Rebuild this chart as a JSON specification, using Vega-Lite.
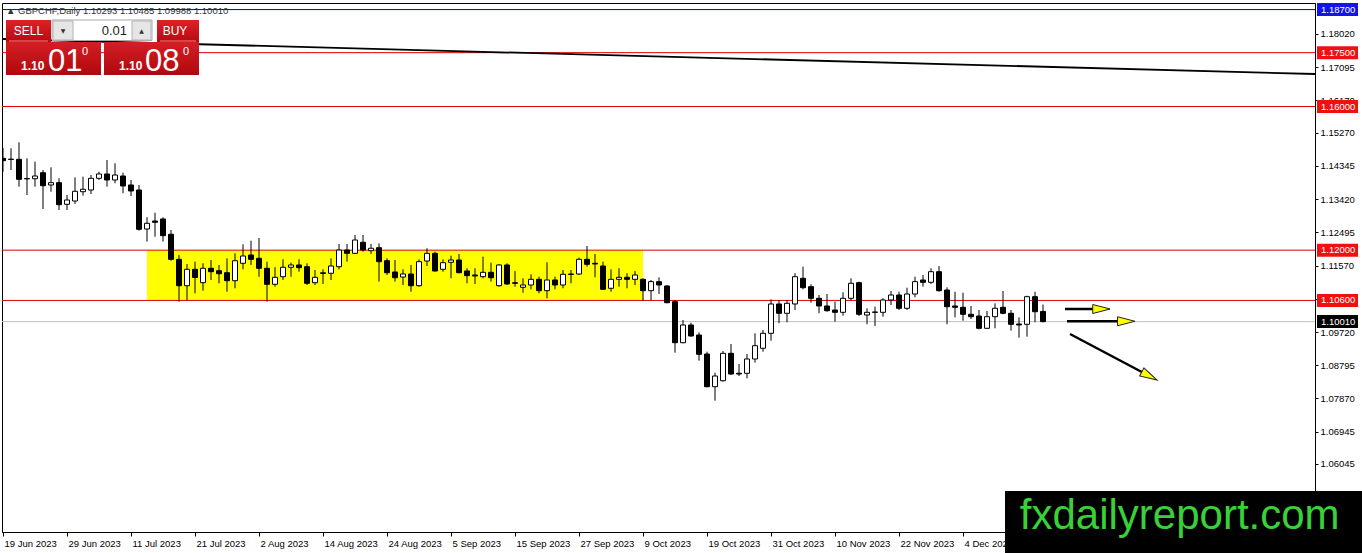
{
  "$schema": "https://vega.github.io/schema/vega-lite/v6.json",
  "width": 1313,
  "height": 529,
  "padding": {"left": 2, "top": 3, "right": 47, "bottom": 21},
  "autosize": {"type": "none"},
  "background": "white",
  "config": {
    "view": {"stroke": "#000000", "strokeWidth": 1},
    "scale": {"continuousPadding": 0},
    "axis": {"labelFont": "Liberation Sans", "labelFontSize": 9.5, "labelColor": "#000000", "domainColor": "#000000", "tickColor": "#000000", "grid": false}
  },
  "data": {"values": [{}]},
  "datasets": {
    "candles": [
      {"i":0,"d":"2023-06-19","o":1.14558,"h":1.14845,"l":1.14185,"c":1.14491},
      {"i":1,"d":"2023-06-20","o":1.14535,"h":1.14837,"l":1.14232,"c":1.14525},
      {"i":2,"d":"2023-06-21","o":1.14530,"h":1.15004,"l":1.13767,"c":1.13973},
      {"i":3,"d":"2023-06-22","o":1.13995,"h":1.14558,"l":1.13536,"c":1.13985},
      {"i":4,"d":"2023-06-23","o":1.13990,"h":1.14464,"l":1.13767,"c":1.14065},
      {"i":5,"d":"2023-06-26","o":1.14157,"h":1.14232,"l":1.13146,"c":1.13795},
      {"i":6,"d":"2023-06-27","o":1.13815,"h":1.14308,"l":1.13628,"c":1.13879},
      {"i":7,"d":"2023-06-28","o":1.13879,"h":1.14001,"l":1.13118,"c":1.13266},
      {"i":8,"d":"2023-06-29","o":1.13277,"h":1.13536,"l":1.13118,"c":1.13397},
      {"i":9,"d":"2023-06-30","o":1.13369,"h":1.14029,"l":1.13286,"c":1.13639},
      {"i":10,"d":"2023-07-03","o":1.13628,"h":1.14046,"l":1.13517,"c":1.13695},
      {"i":11,"d":"2023-07-04","o":1.13675,"h":1.14093,"l":1.13564,"c":1.14001},
      {"i":12,"d":"2023-07-05","o":1.14001,"h":1.14185,"l":1.13954,"c":1.14121},
      {"i":13,"d":"2023-07-06","o":1.14121,"h":1.14511,"l":1.13767,"c":1.13954},
      {"i":14,"d":"2023-07-07","o":1.13954,"h":1.14419,"l":1.13862,"c":1.14093},
      {"i":15,"d":"2023-07-10","o":1.14065,"h":1.14157,"l":1.13584,"c":1.13787},
      {"i":16,"d":"2023-07-11","o":1.13815,"h":1.13954,"l":1.13508,"c":1.13648},
      {"i":17,"d":"2023-07-12","o":1.13675,"h":1.13815,"l":1.12542,"c":1.12581},
      {"i":18,"d":"2023-07-13","o":1.12589,"h":1.12915,"l":1.12236,"c":1.12748},
      {"i":19,"d":"2023-07-14","o":1.12812,"h":1.13043,"l":1.12375,"c":1.12776},
      {"i":20,"d":"2023-07-17","o":1.12868,"h":1.12915,"l":1.12236,"c":1.12403},
      {"i":21,"d":"2023-07-18","o":1.12442,"h":1.12561,"l":1.11706,"c":1.11745},
      {"i":22,"d":"2023-07-19","o":1.11745,"h":1.11865,"l":1.10565,"c":1.11010},
      {"i":23,"d":"2023-07-20","o":1.11010,"h":1.11615,"l":1.10612,"c":1.11467},
      {"i":24,"d":"2023-07-21","o":1.11467,"h":1.11679,"l":1.10799,"c":1.11239},
      {"i":25,"d":"2023-07-24","o":1.11094,"h":1.11634,"l":1.10871,"c":1.11495},
      {"i":26,"d":"2023-07-25","o":1.11495,"h":1.11726,"l":1.11169,"c":1.11400},
      {"i":27,"d":"2023-07-26","o":1.11428,"h":1.11587,"l":1.11077,"c":1.11344},
      {"i":28,"d":"2023-07-27","o":1.11372,"h":1.11773,"l":1.10843,"c":1.11149},
      {"i":29,"d":"2023-07-28","o":1.11149,"h":1.11912,"l":1.10938,"c":1.11706},
      {"i":30,"d":"2023-07-31","o":1.11634,"h":1.12163,"l":1.11467,"c":1.11837},
      {"i":31,"d":"2023-08-01","o":1.11865,"h":1.12263,"l":1.11587,"c":1.11745},
      {"i":32,"d":"2023-08-02","o":1.11773,"h":1.12339,"l":1.11261,"c":1.11495},
      {"i":33,"d":"2023-08-03","o":1.11495,"h":1.11679,"l":1.10565,"c":1.11049},
      {"i":34,"d":"2023-08-04","o":1.11049,"h":1.11523,"l":1.10982,"c":1.11244},
      {"i":35,"d":"2023-08-07","o":1.11261,"h":1.11745,"l":1.11169,"c":1.11523},
      {"i":36,"d":"2023-08-08","o":1.11523,"h":1.11651,"l":1.11261,"c":1.11587},
      {"i":37,"d":"2023-08-09","o":1.11587,"h":1.11745,"l":1.11400,"c":1.11512},
      {"i":38,"d":"2023-08-10","o":1.11539,"h":1.11634,"l":1.11030,"c":1.11077},
      {"i":39,"d":"2023-08-11","o":1.11094,"h":1.11447,"l":1.11030,"c":1.11244},
      {"i":40,"d":"2023-08-14","o":1.11350,"h":1.11467,"l":1.11058,"c":1.11372},
      {"i":41,"d":"2023-08-15","o":1.11356,"h":1.11773,"l":1.11169,"c":1.11559},
      {"i":42,"d":"2023-08-16","o":1.11539,"h":1.12172,"l":1.11467,"c":1.12004},
      {"i":43,"d":"2023-08-17","o":1.12004,"h":1.12172,"l":1.11679,"c":1.11912},
      {"i":44,"d":"2023-08-18","o":1.11912,"h":1.12422,"l":1.11893,"c":1.12283},
      {"i":45,"d":"2023-08-21","o":1.12219,"h":1.12422,"l":1.11957,"c":1.12004},
      {"i":46,"d":"2023-08-22","o":1.11985,"h":1.12172,"l":1.11893,"c":1.12052},
      {"i":47,"d":"2023-08-23","o":1.12068,"h":1.12191,"l":1.11122,"c":1.11679},
      {"i":48,"d":"2023-08-24","o":1.11706,"h":1.11773,"l":1.11308,"c":1.11372},
      {"i":49,"d":"2023-08-25","o":1.11392,"h":1.11726,"l":1.11122,"c":1.11233},
      {"i":50,"d":"2023-08-28","o":1.11252,"h":1.11467,"l":1.11030,"c":1.11336},
      {"i":51,"d":"2023-08-29","o":1.11336,"h":1.11587,"l":1.10843,"c":1.11010},
      {"i":52,"d":"2023-08-30","o":1.11010,"h":1.11745,"l":1.10982,"c":1.11679},
      {"i":53,"d":"2023-08-31","o":1.11698,"h":1.12052,"l":1.11559,"c":1.11912},
      {"i":54,"d":"2023-09-01","o":1.11912,"h":1.11957,"l":1.11400,"c":1.11420},
      {"i":55,"d":"2023-09-04","o":1.11467,"h":1.11745,"l":1.11400,"c":1.11651},
      {"i":56,"d":"2023-09-05","o":1.11662,"h":1.11846,"l":1.11216,"c":1.11726},
      {"i":57,"d":"2023-09-06","o":1.11726,"h":1.11893,"l":1.11356,"c":1.11372},
      {"i":58,"d":"2023-09-07","o":1.11420,"h":1.11495,"l":1.11077,"c":1.11289},
      {"i":59,"d":"2023-09-08","o":1.11308,"h":1.11495,"l":1.11058,"c":1.11280},
      {"i":60,"d":"2023-09-11","o":1.11261,"h":1.11818,"l":1.11216,"c":1.11383},
      {"i":61,"d":"2023-09-12","o":1.11383,"h":1.11651,"l":1.11122,"c":1.11233},
      {"i":62,"d":"2023-09-13","o":1.11010,"h":1.11615,"l":1.10982,"c":1.11587},
      {"i":63,"d":"2023-09-14","o":1.11587,"h":1.11634,"l":1.11030,"c":1.11058},
      {"i":64,"d":"2023-09-15","o":1.11094,"h":1.11420,"l":1.10982,"c":1.11077},
      {"i":65,"d":"2023-09-18","o":1.10966,"h":1.11216,"l":1.10815,"c":1.11030},
      {"i":66,"d":"2023-09-19","o":1.11030,"h":1.11328,"l":1.10910,"c":1.11188},
      {"i":67,"d":"2023-09-20","o":1.11188,"h":1.11261,"l":1.10799,"c":1.10871},
      {"i":68,"d":"2023-09-21","o":1.10871,"h":1.11662,"l":1.10659,"c":1.11169},
      {"i":69,"d":"2023-09-22","o":1.11169,"h":1.11261,"l":1.10910,"c":1.11030},
      {"i":70,"d":"2023-09-25","o":1.11030,"h":1.11447,"l":1.10938,"c":1.11328},
      {"i":71,"d":"2023-09-26","o":1.11322,"h":1.11447,"l":1.11077,"c":1.11336},
      {"i":72,"d":"2023-09-27","o":1.11336,"h":1.11790,"l":1.11308,"c":1.11745},
      {"i":73,"d":"2023-09-28","o":1.11745,"h":1.12116,"l":1.11539,"c":1.11606},
      {"i":74,"d":"2023-09-29","o":1.11634,"h":1.11893,"l":1.11244,"c":1.11615},
      {"i":75,"d":"2023-10-02","o":1.11559,"h":1.11679,"l":1.10890,"c":1.10910},
      {"i":76,"d":"2023-10-03","o":1.10938,"h":1.11467,"l":1.10843,"c":1.11188},
      {"i":77,"d":"2023-10-04","o":1.11188,"h":1.11495,"l":1.10982,"c":1.11244},
      {"i":78,"d":"2023-10-05","o":1.11244,"h":1.11356,"l":1.10938,"c":1.11188},
      {"i":79,"d":"2023-10-06","o":1.11188,"h":1.11420,"l":1.11030,"c":1.11308},
      {"i":80,"d":"2023-10-09","o":1.11188,"h":1.11216,"l":1.10592,"c":1.10871},
      {"i":81,"d":"2023-10-10","o":1.10871,"h":1.11169,"l":1.10612,"c":1.11122},
      {"i":82,"d":"2023-10-11","o":1.11122,"h":1.11244,"l":1.10779,"c":1.11030},
      {"i":83,"d":"2023-10-12","o":1.11002,"h":1.11030,"l":1.10520,"c":1.10537},
      {"i":84,"d":"2023-10-13","o":1.10565,"h":1.10612,"l":1.09144,"c":1.09423},
      {"i":85,"d":"2023-10-16","o":1.09423,"h":1.10055,"l":1.09406,"c":1.09916},
      {"i":86,"d":"2023-10-17","o":1.09916,"h":1.09980,"l":1.09590,"c":1.09609},
      {"i":87,"d":"2023-10-18","o":1.09637,"h":1.09712,"l":1.08921,"c":1.09100},
      {"i":88,"d":"2023-10-19","o":1.09108,"h":1.09172,"l":1.08181,"c":1.08197},
      {"i":89,"d":"2023-10-20","o":1.08197,"h":1.08587,"l":1.07807,"c":1.08495},
      {"i":90,"d":"2023-10-23","o":1.08364,"h":1.09192,"l":1.08337,"c":1.09127},
      {"i":91,"d":"2023-10-24","o":1.09127,"h":1.09387,"l":1.08523,"c":1.08551},
      {"i":92,"d":"2023-10-25","o":1.08571,"h":1.08830,"l":1.08495,"c":1.08551},
      {"i":93,"d":"2023-10-26","o":1.08571,"h":1.09108,"l":1.08431,"c":1.08969},
      {"i":94,"d":"2023-10-27","o":1.08969,"h":1.09685,"l":1.08866,"c":1.09339},
      {"i":95,"d":"2023-10-30","o":1.09267,"h":1.09776,"l":1.09172,"c":1.09685},
      {"i":96,"d":"2023-10-31","o":1.09685,"h":1.10631,"l":1.09478,"c":1.10501},
      {"i":97,"d":"2023-11-01","o":1.10501,"h":1.10612,"l":1.09963,"c":1.10242},
      {"i":98,"d":"2023-11-02","o":1.10242,"h":1.10612,"l":1.09991,"c":1.10520},
      {"i":99,"d":"2023-11-03","o":1.10501,"h":1.11356,"l":1.10333,"c":1.11261},
      {"i":100,"d":"2023-11-06","o":1.11216,"h":1.11539,"l":1.10910,"c":1.10955},
      {"i":101,"d":"2023-11-07","o":1.10982,"h":1.11049,"l":1.10537,"c":1.10659},
      {"i":102,"d":"2023-11-08","o":1.10659,"h":1.10751,"l":1.10242,"c":1.10445},
      {"i":103,"d":"2023-11-09","o":1.10445,"h":1.10779,"l":1.10286,"c":1.10314},
      {"i":104,"d":"2023-11-10","o":1.10333,"h":1.10565,"l":1.10008,"c":1.10269},
      {"i":105,"d":"2023-11-13","o":1.10269,"h":1.10826,"l":1.10175,"c":1.10659},
      {"i":106,"d":"2023-11-14","o":1.10659,"h":1.11216,"l":1.10612,"c":1.11077},
      {"i":107,"d":"2023-11-15","o":1.11094,"h":1.11122,"l":1.10166,"c":1.10214},
      {"i":108,"d":"2023-11-16","o":1.10194,"h":1.10381,"l":1.09935,"c":1.10269},
      {"i":109,"d":"2023-11-17","o":1.10278,"h":1.10425,"l":1.09888,"c":1.10269},
      {"i":110,"d":"2023-11-20","o":1.10269,"h":1.10659,"l":1.10147,"c":1.10612},
      {"i":111,"d":"2023-11-21","o":1.10612,"h":1.10863,"l":1.10473,"c":1.10751},
      {"i":112,"d":"2023-11-22","o":1.10751,"h":1.10843,"l":1.10333,"c":1.10381},
      {"i":113,"d":"2023-11-23","o":1.10381,"h":1.10955,"l":1.10333,"c":1.10779},
      {"i":114,"d":"2023-11-24","o":1.10779,"h":1.11261,"l":1.10687,"c":1.11122},
      {"i":115,"d":"2023-11-27","o":1.11169,"h":1.11308,"l":1.10982,"c":1.11105},
      {"i":116,"d":"2023-11-28","o":1.11105,"h":1.11495,"l":1.11058,"c":1.11400},
      {"i":117,"d":"2023-11-29","o":1.11400,"h":1.11559,"l":1.10843,"c":1.10871},
      {"i":118,"d":"2023-11-30","o":1.10890,"h":1.10966,"l":1.09935,"c":1.10425},
      {"i":119,"d":"2023-12-01","o":1.10445,"h":1.10843,"l":1.10130,"c":1.10409},
      {"i":120,"d":"2023-12-04","o":1.10409,"h":1.10815,"l":1.10035,"c":1.10214},
      {"i":121,"d":"2023-12-05","o":1.10214,"h":1.10445,"l":1.10083,"c":1.10147},
      {"i":122,"d":"2023-12-06","o":1.10166,"h":1.10333,"l":1.09796,"c":1.09824},
      {"i":123,"d":"2023-12-07","o":1.09824,"h":1.10306,"l":1.09804,"c":1.10147},
      {"i":124,"d":"2023-12-08","o":1.10147,"h":1.10520,"l":1.09824,"c":1.10381},
      {"i":125,"d":"2023-12-11","o":1.10409,"h":1.10863,"l":1.10214,"c":1.10242},
      {"i":126,"d":"2023-12-12","o":1.10242,"h":1.10333,"l":1.09757,"c":1.09935},
      {"i":127,"d":"2023-12-13","o":1.09944,"h":1.10130,"l":1.09562,"c":1.09916},
      {"i":128,"d":"2023-12-14","o":1.09935,"h":1.10732,"l":1.09590,"c":1.10704},
      {"i":129,"d":"2023-12-15","o":1.10704,"h":1.10843,"l":1.09991,"c":1.10286},
      {"i":130,"d":"2023-12-18","o":1.10293,"h":1.10485,"l":1.09988,"c":1.10010}
    ],
    "levels": [
      {"p": 1.187, "kind": "high"},
      {"p": 1.175, "kind": "level"},
      {"p": 1.16, "kind": "level"},
      {"p": 1.12, "kind": "major"},
      {"p": 1.106, "kind": "level"},
      {"p": 1.1001, "kind": "bid"}
    ],
    "zones": [{"from": 18, "to": 80, "top": 1.12, "bottom": 1.106}],
    "trend": [{"i": -0.125, "p": 1.17881}, {"i": 164, "p": 1.16906}],
    "arrows": [
      {"id": "a", "i": 132.75, "p": 1.10361}, {"id": "a", "i": 137.3, "p": 1.10361},
      {"id": "b", "i": 133, "p": 1.1002}, {"id": "b", "i": 140.4, "p": 1.1002},
      {"id": "c", "i": 133.375, "p": 1.09665}, {"id": "c", "i": 143.3, "p": 1.08495}
    ],
    "heads": [
      {"id": "a", "i": 137.3, "p": 1.10361, "a": 0},
      {"id": "b", "i": 140.4, "p": 1.1002, "a": 0},
      {"id": "c", "i": 143.3, "p": 1.08495, "a": 28}
    ]
  },
  "layer": [
    {
      "data": {"name": "zones"},
      "mark": {"type": "rect", "fill": "#FFFF00"},
      "encoding": {
        "x": {"field": "from", "type": "quantitative", "title": null},
        "x2": {"field": "to"},
        "y": {"field": "top", "type": "quantitative", "title": null},
        "y2": {"field": "bottom"}
      }
    },
    {
      "data": {"name": "levels"},
      "mark": {"type": "rule"},
      "encoding": {
        "y": {"field": "p", "type": "quantitative", "title": null},
        "stroke": {"field": "kind", "type": "nominal", "legend": null,
          "scale": {"domain": ["high", "level", "major", "bid"], "range": ["#0000C8", "#D80000", "#D80000", "#C0C0C0"]}},
        "strokeWidth": {"field": "kind", "type": "nominal", "legend": null,
          "scale": {"domain": ["high", "level", "major", "bid"], "range": [1, 1, 2, 1]}}
      }
    },
    {
      "data": {"name": "trend"},
      "mark": {"type": "line", "color": "#000000", "strokeWidth": 1.8},
      "encoding": {
        "x": {"field": "i", "type": "quantitative", "title": null},
        "y": {"field": "p", "type": "quantitative", "title": null}
      }
    },
    {
      "data": {"name": "candles"},
      "mark": {"type": "rule", "color": "#000000", "strokeWidth": 1, "clip": true},
      "encoding": {
        "x": {
          "field": "i", "type": "quantitative", "title": null,
          "scale": {"domain": [-0.125, 164], "nice": false, "zero": false, "padding": 0},
          "axis": {
            "orient": "bottom", "title": null,
            "values": [0, 8, 16, 24, 32, 40, 48, 56, 64, 72, 80, 88, 96, 104, 112, 120],
            "labelExpr": "['19 Jun 2023','29 Jun 2023','11 Jul 2023','21 Jul 2023','2 Aug 2023','14 Aug 2023','24 Aug 2023','5 Sep 2023','15 Sep 2023','27 Sep 2023','9 Oct 2023','19 Oct 2023','31 Oct 2023','10 Nov 2023','22 Nov 2023','4 Dec 2023'][datum.value / 8]",
            "labelAlign": "left", "labelOffset": 1, "labelPadding": 2, "tickSize": 4,
            "labelOverlap": false, "labelFlush": false, "labelBound": false
          }
        },
        "y": {
          "field": "l", "type": "quantitative", "title": null,
          "scale": {"domain": [1.04151, 1.18883], "nice": false, "zero": false, "padding": 0},
          "axis": {
            "orient": "right", "title": null,
            "values": [1.1802, 1.17095, 1.1617, 1.1527, 1.14345, 1.1342, 1.12495, 1.1157, 1.10645, 1.0972, 1.08795, 1.0787, 1.06945, 1.06045],
            "format": ".5f", "tickSize": 3, "labelPadding": 2,
            "labelOverlap": false, "labelFlush": false
          }
        },
        "y2": {"field": "h"}
      }
    },
    {
      "data": {"name": "candles"},
      "mark": {"type": "bar", "orient": "vertical", "size": 5, "stroke": "#000000", "strokeWidth": 1, "clip": true},
      "encoding": {
        "x": {"field": "i", "type": "quantitative", "title": null},
        "y": {"field": "o", "type": "quantitative", "title": null},
        "y2": {"field": "c"},
        "fill": {"condition": {"test": "datum.c < datum.o", "value": "#000000"}, "value": "#FFFFFF"}
      }
    },
    {
      "data": {"name": "arrows"},
      "mark": {"type": "line", "color": "#000000", "strokeWidth": 2.5},
      "encoding": {
        "x": {"field": "i", "type": "quantitative", "title": null},
        "y": {"field": "p", "type": "quantitative", "title": null},
        "detail": {"field": "id"}
      }
    },
    {
      "data": {"name": "heads"},
      "mark": {"type": "point", "shape": "M-1,-0.52L1,0L-1,0.52Z", "size": 300, "filled": true, "fill": "#FFFF00", "stroke": "#222222", "strokeWidth": 1, "opacity": 1},
      "encoding": {
        "x": {"field": "i", "type": "quantitative", "title": null},
        "y": {"field": "p", "type": "quantitative", "title": null},
        "angle": {"field": "a", "type": "quantitative", "scale": null}
      }
    },
    {
      "data": {"name": "levels"},
      "mark": {"type": "bar", "orient": "horizontal", "size": 13},
      "encoding": {
        "x": {"datum": 164.25, "type": "quantitative"},
        "x2": {"datum": 169.375},
        "y": {"field": "p", "type": "quantitative", "title": null},
        "fill": {"field": "kind", "type": "nominal", "legend": null,
          "scale": {"domain": ["high", "level", "major", "bid"], "range": ["#1414E6", "#F01010", "#F01010", "#000000"]}}
      }
    },
    {
      "data": {"name": "levels"},
      "mark": {"type": "text", "align": "left", "baseline": "middle", "font": "Liberation Sans", "fontSize": 9.5, "color": "#FFFFFF"},
      "encoding": {
        "x": {"datum": 164.75, "type": "quantitative"},
        "y": {"field": "p", "type": "quantitative", "title": null},
        "text": {"field": "p", "type": "quantitative", "format": ".5f"}
      }
    },
    {
      "mark": {"type": "text", "text": "▲ GBPCHF,Daily  1.10293 1.10485 1.09988 1.10010", "align": "left", "baseline": "middle", "font": "Liberation Sans", "fontSize": 9.5, "color": "#333333"},
      "encoding": {
        "x": {"datum": 0.375, "type": "quantitative"},
        "y": {"datum": 1.18669, "type": "quantitative"}
      }
    },
    {
      "mark": {"type": "rect", "color": {"gradient": "linear", "x1": 0, "y1": 0, "x2": 0, "y2": 1, "stops": [{"offset": 0, "color": "#DC2228"}, {"offset": 1, "color": "#B80A10"}]}},
      "encoding": {
        "x": {"datum": 0.375, "type": "quantitative"}, "x2": {"datum": 6},
        "y": {"datum": 1.1841, "type": "quantitative"}, "y2": {"datum": 1.17797}
      }
    },
    {
      "mark": {"type": "rect", "color": {"gradient": "linear", "x1": 0, "y1": 0, "x2": 0, "y2": 1, "stops": [{"offset": 0, "color": "#DC2228"}, {"offset": 1, "color": "#B80A10"}]}},
      "encoding": {
        "x": {"datum": 19.25, "type": "quantitative"}, "x2": {"datum": 24.5},
        "y": {"datum": 1.1841, "type": "quantitative"}, "y2": {"datum": 1.17797}
      }
    },
    {
      "mark": {"type": "rect", "color": {"gradient": "linear", "x1": 0, "y1": 0, "x2": 0, "y2": 1, "stops": [{"offset": 0, "color": "#D41E24"}, {"offset": 1, "color": "#B0080D"}]}},
      "encoding": {
        "x": {"datum": 0.375, "type": "quantitative"}, "x2": {"datum": 12.25},
        "y": {"datum": 1.17797, "type": "quantitative"}, "y2": {"datum": 1.16878}
      }
    },
    {
      "mark": {"type": "rect", "color": {"gradient": "linear", "x1": 0, "y1": 0, "x2": 0, "y2": 1, "stops": [{"offset": 0, "color": "#D41E24"}, {"offset": 1, "color": "#B0080D"}]}},
      "encoding": {
        "x": {"datum": 12.625, "type": "quantitative"}, "x2": {"datum": 24.5},
        "y": {"datum": 1.17797, "type": "quantitative"}, "y2": {"datum": 1.16878}
      }
    },
    {
      "mark": {"type": "rule", "color": "#F08080", "strokeWidth": 1},
      "encoding": {
        "x": {"datum": 0.75, "type": "quantitative"}, "x2": {"datum": 5.625},
        "y": {"datum": 1.17825, "type": "quantitative"}
      }
    },
    {
      "mark": {"type": "rule", "color": "#F08080", "strokeWidth": 1},
      "encoding": {
        "x": {"datum": 19.625, "type": "quantitative"}, "x2": {"datum": 24.125},
        "y": {"datum": 1.17825, "type": "quantitative"}
      }
    },
    {
      "mark": {"type": "rect", "fill": "#FFFFFF", "stroke": "#A8A8A8", "strokeWidth": 1},
      "encoding": {
        "x": {"datum": 6.125, "type": "quantitative"}, "x2": {"datum": 18.625},
        "y": {"datum": 1.1841, "type": "quantitative"}, "y2": {"datum": 1.17839}
      }
    },
    {
      "mark": {"type": "rect", "fill": "#E6E6E6", "stroke": "#B4B4B4", "strokeWidth": 1},
      "encoding": {
        "x": {"datum": 6.25, "type": "quantitative"}, "x2": {"datum": 8.75},
        "y": {"datum": 1.18382, "type": "quantitative"}, "y2": {"datum": 1.17853}
      }
    },
    {
      "mark": {"type": "rect", "fill": "#E6E6E6", "stroke": "#B4B4B4", "strokeWidth": 1},
      "encoding": {
        "x": {"datum": 16.125, "type": "quantitative"}, "x2": {"datum": 18.5},
        "y": {"datum": 1.18382, "type": "quantitative"}, "y2": {"datum": 1.17853}
      }
    },
    {
      "mark": {"type": "text", "text": "▼", "align": "center", "baseline": "middle", "font": "DejaVu Sans", "fontSize": 6, "color": "#333333"},
      "encoding": {
        "x": {"datum": 7.5, "type": "quantitative"},
        "y": {"datum": 1.18117, "type": "quantitative"}
      }
    },
    {
      "mark": {"type": "text", "text": "▲", "align": "center", "baseline": "middle", "font": "DejaVu Sans", "fontSize": 6, "color": "#333333"},
      "encoding": {
        "x": {"datum": 17.31, "type": "quantitative"},
        "y": {"datum": 1.18117, "type": "quantitative"}
      }
    },
    {
      "mark": {"type": "text", "text": "0.01", "align": "right", "baseline": "middle", "font": "Liberation Sans", "fontSize": 13, "color": "#222222"},
      "encoding": {
        "x": {"datum": 15.5, "type": "quantitative"},
        "y": {"datum": 1.18117, "type": "quantitative"}
      }
    },
    {
      "mark": {"type": "text", "text": "SELL", "align": "center", "baseline": "middle", "font": "Liberation Sans", "fontSize": 12, "color": "#FFFFFF"},
      "encoding": {
        "x": {"datum": 3.19, "type": "quantitative"},
        "y": {"datum": 1.18117, "type": "quantitative"}
      }
    },
    {
      "mark": {"type": "text", "text": "BUY", "align": "center", "baseline": "middle", "font": "Liberation Sans", "fontSize": 12, "color": "#FFFFFF"},
      "encoding": {
        "x": {"datum": 21.5, "type": "quantitative"},
        "y": {"datum": 1.18117, "type": "quantitative"}
      }
    },
    {
      "mark": {"type": "text", "text": "1.10", "align": "left", "baseline": "alphabetic", "font": "Liberation Sans", "fontSize": 12, "fontWeight": "bold", "color": "#FFFFFF"},
      "encoding": {
        "x": {"datum": 2.25, "type": "quantitative"},
        "y": {"datum": 1.17031, "type": "quantitative"}
      }
    },
    {
      "mark": {"type": "text", "text": "01", "align": "left", "baseline": "alphabetic", "font": "Liberation Sans", "fontSize": 31, "color": "#FFFFFF"},
      "encoding": {
        "x": {"datum": 5.625, "type": "quantitative"},
        "y": {"datum": 1.1699, "type": "quantitative"}
      }
    },
    {
      "mark": {"type": "text", "text": "0", "align": "left", "baseline": "alphabetic", "font": "Liberation Sans", "fontSize": 11, "color": "#FFFFFF"},
      "encoding": {
        "x": {"datum": 9.875, "type": "quantitative"},
        "y": {"datum": 1.17435, "type": "quantitative"}
      }
    },
    {
      "mark": {"type": "text", "text": "1.10", "align": "left", "baseline": "alphabetic", "font": "Liberation Sans", "fontSize": 12, "fontWeight": "bold", "color": "#FFFFFF"},
      "encoding": {
        "x": {"datum": 14.5, "type": "quantitative"},
        "y": {"datum": 1.17031, "type": "quantitative"}
      }
    },
    {
      "mark": {"type": "text", "text": "08", "align": "left", "baseline": "alphabetic", "font": "Liberation Sans", "fontSize": 31, "color": "#FFFFFF"},
      "encoding": {
        "x": {"datum": 17.75, "type": "quantitative"},
        "y": {"datum": 1.1699, "type": "quantitative"}
      }
    },
    {
      "mark": {"type": "text", "text": "0", "align": "left", "baseline": "alphabetic", "font": "Liberation Sans", "fontSize": 11, "color": "#FFFFFF"},
      "encoding": {
        "x": {"datum": 22.5, "type": "quantitative"},
        "y": {"datum": 1.17435, "type": "quantitative"}
      }
    },
    {
      "mark": {"type": "rect", "fill": "#000000"},
      "encoding": {
        "x": {"datum": 125.25, "type": "quantitative"}, "x2": {"datum": 169.875},
        "y": {"datum": 1.05293, "type": "quantitative"}, "y2": {"datum": 1.03566}
      }
    },
    {
      "mark": {"type": "text", "text": "fxdailyreport.com", "align": "left", "baseline": "alphabetic", "font": "Liberation Sans", "fontSize": 42, "color": "#38D138"},
      "encoding": {
        "x": {"datum": 127.1, "type": "quantitative"},
        "y": {"datum": 1.04234, "type": "quantitative"}
      }
    }
  ]
}
